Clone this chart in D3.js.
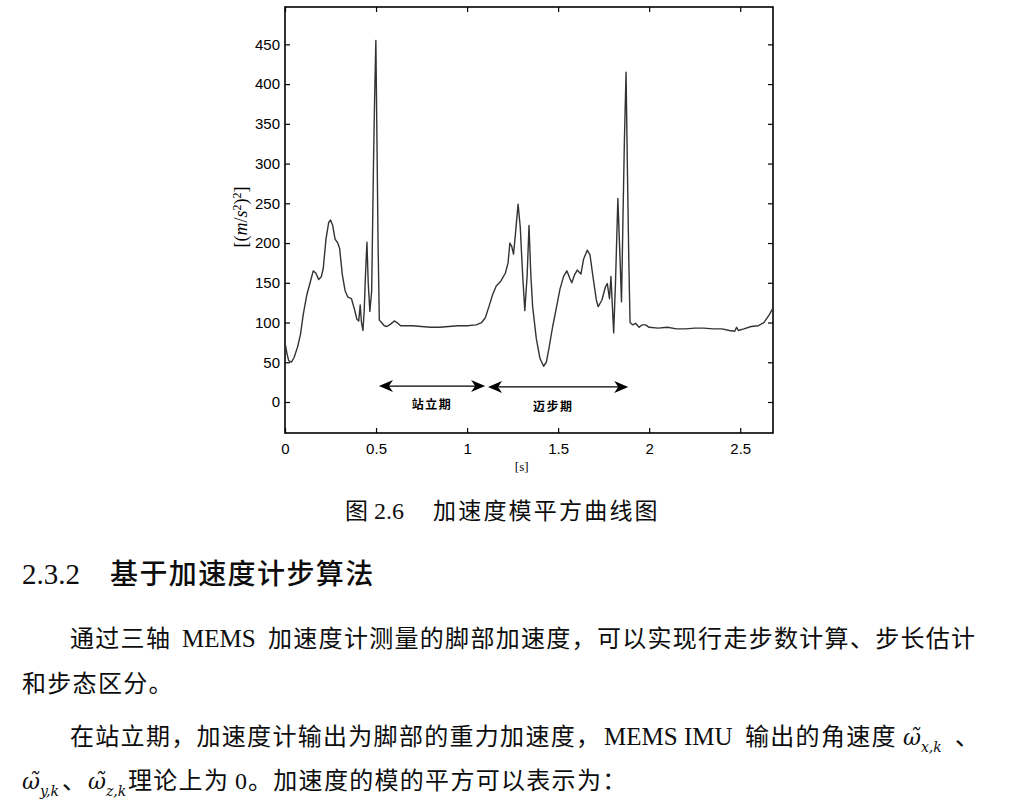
<!DOCTYPE html>
<html>
<head>
<meta charset="utf-8">
<script src="https://cdn.jsdelivr.net/npm/d3@7/dist/d3.min.js"></script>
<style>
  html, body { margin: 0; padding: 0; background: #fff; }
  svg { display: block; }
</style>
</head>
<body>
<svg id="chart" width="1026" height="802"></svg>
<script>
// ---------- data ----------
const timeS = [0.000,0.010,0.020,0.035,0.050,0.070,0.085,0.100,0.120,0.140,0.155,0.170,0.185,0.200,0.210,0.225,0.240,0.250,0.262,0.275,0.290,0.300,0.315,0.330,0.345,0.365,0.380,0.395,0.405,0.413,0.420,0.428,0.435,0.442,0.450,0.457,0.466,0.476,0.486,0.492,0.499,0.505,0.511,0.518,0.530,0.545,0.560,0.580,0.600,0.615,0.635,0.660,0.700,0.750,0.800,0.850,0.900,0.950,1.000,1.050,1.080,1.100,1.120,1.140,1.160,1.185,1.210,1.225,1.235,1.245,1.255,1.265,1.280,1.292,1.305,1.317,1.330,1.340,1.350,1.360,1.380,1.400,1.420,1.435,1.450,1.470,1.490,1.510,1.530,1.548,1.565,1.575,1.590,1.605,1.625,1.640,1.660,1.675,1.690,1.710,1.720,1.740,1.760,1.770,1.782,1.790,1.797,1.805,1.815,1.828,1.840,1.848,1.856,1.864,1.873,1.880,1.888,1.895,1.910,1.925,1.945,1.960,1.980,2.000,2.050,2.100,2.150,2.200,2.250,2.300,2.350,2.400,2.440,2.470,2.480,2.490,2.520,2.560,2.600,2.630,2.660,2.680];
const accelSq = [75,62,52,50,56,70,85,110,135,152,165,162,154,158,168,205,226,229,222,205,200,193,160,140,132,130,118,104,102,122,100,90,115,160,201,150,114,140,300,380,455,330,200,103,100,96,95,98,102,100,96,96,96,95,94,94,95,96,96,97,100,106,120,135,146,152,162,175,200,196,186,210,249,220,160,115,160,222,160,120,80,55,45,50,68,95,118,142,158,165,155,150,160,166,161,180,191,185,160,128,120,128,145,149,130,158,125,87,150,256,180,126,230,330,415,300,180,100,97,99,94,97,97,94,93,94,92,92,93,93,92,92,90,89,94,90,92,95,96,100,110,118];

const xTickValues = [0, 0.5, 1, 1.5, 2, 2.5];
const xTickLabels = ["0", "0.5", "1", "1.5", "2", "2.5"];
const yTickValues = [0, 50, 100, 150, 200, 250, 300, 350, 400, 450];
const yTickLabels = ["0", "50", "100", "150", "200", "250", "300", "350", "400", "450"];

const phaseLabels = ["站立期", "迈步期"];
const phaseStart = [0.516, 1.115];
const phaseEnd = [1.099, 1.885];
const phaseArrowValue = [20, 19];
const phaseLabelTime = [0.808, 1.473];
const phaseLabelValue = [-9, -11];

// ---------- layout ----------
const svg = d3.select("#chart");
const L = 285, R = 773, T = 7, B = 433;

const x = d3.scaleLinear().domain([0, 2.68]).range([L, R]);
const y = d3.scaleLinear().domain([-39, 497]).range([B, T]);

const tickFont = "'Liberation Sans', Arial, sans-serif";

// axes (ticks inward, MATLAB style)
const gB = svg.append("g").attr("transform", `translate(0,${B})`)
  .call(d3.axisBottom(x).tickValues(xTickValues).tickFormat((d, i) => xTickLabels[i]).tickSize(-5).tickPadding(10));
const gT = svg.append("g").attr("transform", `translate(0,${T})`)
  .call(d3.axisTop(x).tickValues(xTickValues).tickFormat("").tickSize(-5));
const gL = svg.append("g").attr("transform", `translate(${L},0)`)
  .call(d3.axisLeft(y).tickValues(yTickValues).tickFormat((d, i) => yTickLabels[i]).tickSize(-5).tickPadding(5));
const gR = svg.append("g").attr("transform", `translate(${R},0)`)
  .call(d3.axisRight(y).tickValues(yTickValues).tickFormat("").tickSize(-5));

[gB, gT, gL, gR].forEach(g => {
  g.select(".domain").remove();
  g.selectAll(".tick line").attr("stroke", "#000").attr("stroke-width", 1.2);
  g.selectAll(".tick text").attr("fill", "#000").style("font-family", tickFont).style("font-size", "15px");
});

// frame
svg.append("rect").attr("x", L).attr("y", T).attr("width", R - L).attr("height", B - T)
  .attr("fill", "none").attr("stroke", "#000").attr("stroke-width", 1.6);

// data line
const pts = timeS.map((t, i) => [t, accelSq[i]]);
svg.append("path").datum(pts)
  .attr("fill", "none").attr("stroke", "#333").attr("stroke-width", 1.4)
  .attr("stroke-linejoin", "round")
  .attr("d", d3.line().x(d => x(d[0])).y(d => y(d[1])));

// phase arrows
function head(tx, ty, dir) {
  const s = dir; // -1 points left, +1 points right
  return `M${tx},${ty} L${tx - s * 14},${ty - 6} L${tx - s * 10},${ty} L${tx - s * 14},${ty + 6} Z`;
}
phaseLabels.forEach((lab, i) => {
  const x0 = x(phaseStart[i]), x1 = x(phaseEnd[i]), yy = y(phaseArrowValue[i]);
  svg.append("line").attr("x1", x0 + 8).attr("x2", x1 - 8).attr("y1", yy).attr("y2", yy)
    .attr("stroke", "#000").attr("stroke-width", 1.4);
  svg.append("path").attr("d", head(x0, yy, -1)).attr("fill", "#000");
  svg.append("path").attr("d", head(x1, yy, 1)).attr("fill", "#000");
  svg.append("text").attr("x", x(phaseLabelTime[i])).attr("y", y(phaseLabelValue[i]))
    .attr("text-anchor", "middle").attr("fill", "#000")
    .style("font-family", "'Noto Sans CJK SC', sans-serif").style("font-size", "12px")
    .style("font-weight", "bold").style("letter-spacing", "1.5px")
    .text(lab);
});

// axis titles
svg.append("text").attr("x", x(1.3)).attr("y", 471).attr("text-anchor", "middle")
  .style("font-family", "'Liberation Serif', serif").style("font-size", "13px").attr("fill", "#000")
  .text("[s]");

const yl = svg.append("text").attr("transform", "translate(247,217) rotate(-90)")
  .attr("text-anchor", "middle").attr("fill", "#000")
  .style("font-family", "'Liberation Serif', serif").style("font-size", "18px");
yl.append("tspan").text("[(");
yl.append("tspan").style("font-style", "italic").text("m");
yl.append("tspan").text("/");
yl.append("tspan").style("font-style", "italic").text("s");
yl.append("tspan").attr("dy", -6).style("font-size", "12px").text("2");
yl.append("tspan").attr("dy", 6).text(")");
yl.append("tspan").attr("dy", -6).style("font-size", "12px").text("2");
yl.append("tspan").attr("dy", 6).text("]");

// ---------- page text ----------
const serif = "'Liberation Serif', 'Noto Sans CJK SC', serif";
const cjk = "'Noto Sans CJK SC', sans-serif";
function txt(xp, yp, s, size, family, extra) {
  const t = svg.append("text").attr("x", xp).attr("y", yp).attr("fill", "#0d0d0d")
    .style("font-family", family).style("font-size", size + "px").text(s);
  if (extra) extra(t);
  return t;
}
// caption
txt(345, 519, "图", 23, cjk);
txt(374, 519, "2.6", 24, serif);
txt(433, 519, "加速度模平方曲线图", 23, cjk, t => t.style("letter-spacing", "2.2px"));

// heading
txt(22, 584, "2.3.2", 29, serif);
txt(110, 584, "基于加速度计步算法", 28, cjk, t => t.style("letter-spacing", "1.4px").style("font-weight", "500"));

// paragraph 1
const ls = t => t.style("letter-spacing", "1.3px");
txt(70, 647, "通过三轴", 24, cjk, ls);
txt(182, 647, "MEMS", 25, serif);
txt(268, 647, "加速度计测量的脚部加速度，可以实现行走步数计算、步长估计", 24, cjk, ls);
txt(22, 692, "和步态区分。", 24, cjk, ls);

// paragraph 2
txt(70, 745, "在站立期，加速度计输出为脚部的重力加速度，", 24, cjk, ls);
txt(604, 745, "MEMS IMU", 25, serif);
txt(745, 745, "输出的角速度", 24, cjk, ls);
function omega(xp, yp, sub) {
  const t = svg.append("text").attr("x", xp).attr("y", yp).attr("fill", "#0d0d0d")
    .style("font-family", "'DejaVu Serif', serif").style("font-size", "22px");
  t.append("tspan").style("font-style", "italic").text("\u03C9\u0303");
  t.append("tspan").attr("dy", 7).style("font-size", "14px").style("font-style", "italic").text(sub);
}
omega(903, 745, "x,k");
txt(955, 745, "、", 24, cjk);
omega(22, 789, "y,k");
txt(62, 789, "、", 24, cjk);
omega(88, 789, "z,k");
txt(128, 789, "理论上为", 24, cjk, ls);
txt(235, 789, "0", 24, serif);
txt(248, 789, "。加速度的模的平方可以表示为：", 24, cjk, ls);
</script>
</body>
</html>
